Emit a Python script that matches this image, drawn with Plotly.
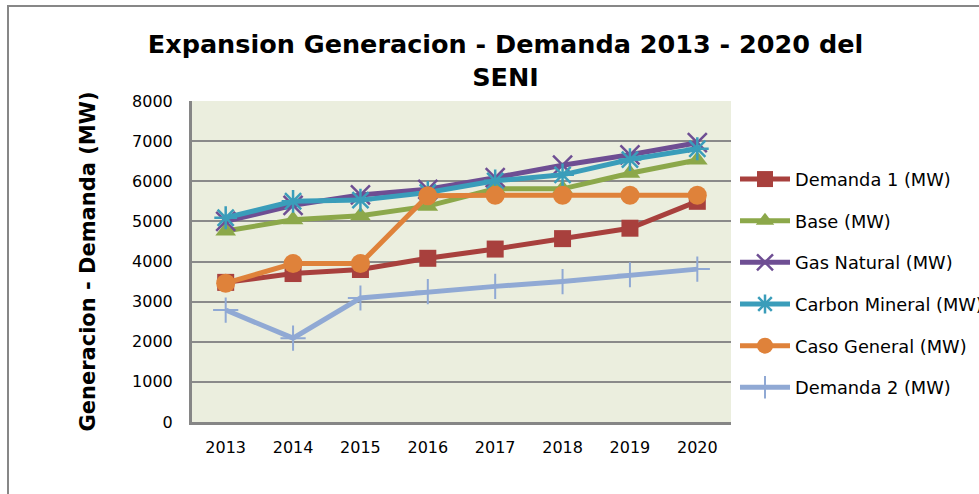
import plotly.graph_objects as go

years = ["2013", "2014", "2015", "2016", "2017", "2018", "2019", "2020"]
demanda1 = [3480, 3700, 3800, 4080, 4310, 4570, 4830, 5500]
base = [4760, 5040, 5140, 5380, 5810, 5810, 6200, 6530]
gas_natural = [5000, 5400, 5660, 5800, 6090, 6400, 6660, 6960]
carbon_mineral = [5090, 5500, 5530, 5720, 6010, 6160, 6540, 6810]
caso_general = [3460, 3950, 3950, 5640, 5650, 5650, 5650, 5650]
demanda2 = [2790, 2090, 3090, 3250, 3380, 3500, 3670, 3810]

series = [
    ("Demanda 1 (MW)", demanda1, "#A8403D", "square", 17, 0),
    ("Base (MW)", base, "#8CA84A", "triangle-up", 18, 0),
    ("Gas Natural (MW)", gas_natural, "#6E4E93", "x-thin-open", 19, 2.5),
    ("Carbon Mineral (MW)", carbon_mineral, "#3A9DBA", "asterisk-open", 19, 2.5),
    ("Caso General (MW)", caso_general, "#DF823A", "circle", 19, 0),
    ("Demanda 2 (MW)", demanda2, "#90A9D4", "cross-thin-open", 18, 2),
]

FONT = "DejaVu Sans"
W, H = 979, 494
L, R, T, B = 192, 731, 101, 422

fig = go.Figure()
for i, (name, vals, col, sym, size, lw) in enumerate(series):
    fig.add_trace(go.Scatter(
        x=years, y=vals, name=name, mode="lines+markers",
        line=dict(color=col, width=5),
        marker=dict(symbol=sym, size=size, color=col,
                    line=dict(color=col, width=lw)),
        legendgroup=f"g{i}",
    ))

def px_x(px):
    return (px - L) / (R - L)

def px_y(py):
    return (B - py) / (B - T)

fig.update_layout(
    width=W, height=H,
    margin=dict(l=L, r=W - R, t=T, b=H - B, autoexpand=False),
    paper_bgcolor="white",
    plot_bgcolor="#EBEEDE",
    font=dict(family=FONT, size=16, color="black"),
    title=dict(
        text="<b>Expansion Generacion - Demanda 2013 - 2020 del<br>SENI</b>",
        x=505.5 / W, xanchor="center", y=1 - 53 / H, yanchor="top",
        font=dict(family=FONT, size=25.5, color="black"),
    ),
    showlegend=True,
    legend=dict(
        x=px_x(735), xanchor="left", y=px_y(161), yanchor="top",
        font=dict(family=FONT, size=17.8, color="black"),
        tracegroupgap=15.5, bgcolor="rgba(0,0,0,0)",
        itemwidth=50,
    ),
    xaxis=dict(
        type="category", range=[-0.5, 7.5],
        showgrid=False, showline=True, linecolor="#868686", linewidth=3,
        ticks="", tickfont=dict(size=16), ticklabelstandoff=9,
        fixedrange=True,
    ),
    yaxis=dict(
        range=[0, 8000], dtick=1000, tickformat="d",
        showgrid=True, gridcolor="#8A8A8A", gridwidth=2,
        showline=True, linecolor="#868686", linewidth=3,
        zeroline=False,
        ticks="", tickfont=dict(size=16), ticklabelstandoff=13,
        title=dict(text="<b>Generacion - Demanda (MW)</b>",
                   font=dict(family=FONT, size=21), standoff=31),
    ),
    shapes=[dict(
        type="rect", xref="paper", yref="paper",
        x0=px_x(8), x1=px_x(1100), y0=px_y(600), y1=px_y(6),
        line=dict(color="#878787", width=2), fillcolor="rgba(0,0,0,0)",
        layer="below",
    )],
)

fig.write_html(
    "out.html",
    config={"displayModeBar": False},
    post_script="document.body.style.margin='0';document.body.style.overflow='hidden';",
)
